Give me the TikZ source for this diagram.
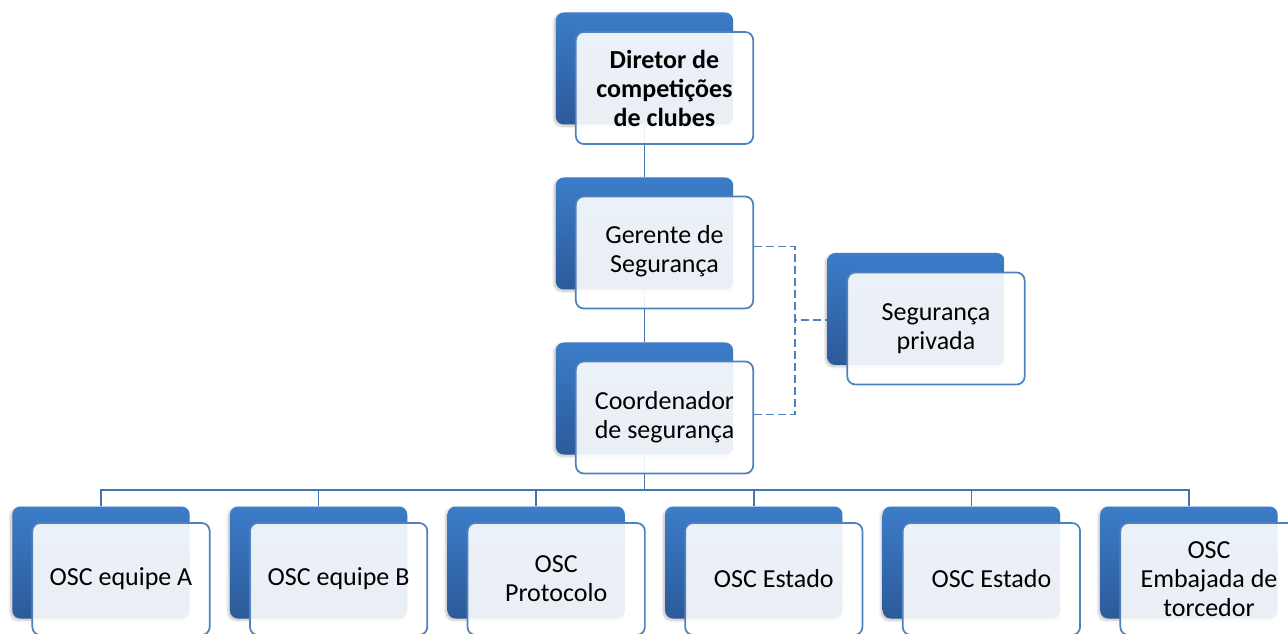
\documentclass[tikz,border=0pt]{standalone}
\usepackage{fontspec}
\setmainfont{Carlito}
\usetikzlibrary{shadows.blur}
\definecolor{boxtop}{HTML}{3C7CC9}
\definecolor{boxbot}{HTML}{2C5A99}
\definecolor{edgeblue}{HTML}{4F81BD}
\definecolor{connblue}{HTML}{4674B0}
\tikzset{
 darkbox/.style={rectangle, rounded corners=6pt, minimum width=133pt, minimum height=84pt, inner sep=0pt,
   top color=boxtop, bottom color=boxbot, draw=none,
   blur shadow={shadow xshift=-1.2pt, shadow yshift=-1.2pt, shadow blur steps=6, shadow opacity=25}},
 lightbox/.style={rectangle, rounded corners=6pt, minimum width=133pt, minimum height=84pt, inner sep=2pt,
   draw=edgeblue, line width=1.3pt, fill=white, fill opacity=0.9, text opacity=1, align=center,
   font=\fontsize{19.5pt}{21.75pt}\selectfont},
 conn/.style={draw=connblue, line width=1.1pt},
 dconn/.style={draw=edgeblue, line width=1.4pt, dash pattern=on 6pt off 3pt},
}
\begin{document}
\begin{tikzpicture}[x=0.75pt,y=-0.75pt]
\useasboundingbox (0,0) rectangle (1288,634);
\clip (0,0) rectangle (1288,634);
% dark boxes
\node[darkbox] (d1) at (644.5,68.5) {};
\node[darkbox] (d2) at (644.5,233.5) {};
\node[darkbox] (d3) at (644.5,398.5) {};
\node[darkbox] (ds) at (916,309) {};
\node[darkbox] (db1) at (101,562.5) {};
\node[darkbox] (db2) at (318.6,562.5) {};
\node[darkbox] (db3) at (536.2,562.5) {};
\node[darkbox] (db4) at (753.8,562.5) {};
\node[darkbox] (db5) at (971.4,562.5) {};
\node[darkbox] (db6) at (1189,562.5) {};
% solid connectors
\draw[conn] (d1.south) -- (d2.north);
\draw[conn] (d2.south) -- (d3.north);
\coordinate (bus) at (644.5,490);
\draw[conn] (d3.south) -- (bus);
\foreach \i in {1,...,6} { \draw[conn] (bus) -| (db\i.north); }
% light boxes
\node[lightbox] (l1) at (664.5,88) {\bfseries Diretor de\\\bfseries competições\\\bfseries de clubes};
\node[lightbox] (l2) at (664.5,252.5) {\raisebox{-2pt}{\begin{tabular}{@{}c@{}}Gerente de\\Segurança\end{tabular}}};
\node[lightbox] (l3) at (664.5,417.5) {Coordenador\\de segurança};
\node[lightbox] (ls) at (936,328.5) {Segurança\\privada};
\node[lightbox] (lb1) at (121,579) {OSC equipe A};
\node[lightbox] (lb2) at (338.6,579) {OSC equipe B};
\node[lightbox] (lb3) at (556.2,579) {OSC\\Protocolo};
\node[lightbox] (lb4) at (773.8,579) {OSC Estado};
\node[lightbox] (lb5) at (991.4,579) {OSC Estado};
\node[lightbox] (lb6) at (1209,579) {OSC\\Embajada de\\torcedor};
% dashed connectors
\coordinate (dj) at (795,320);
\draw[dconn] ([yshift=4.5pt]l2.east) -| (dj) -- (dj -| ds.west);
\draw[dconn] ([yshift=2.25pt]l3.east) -| (dj);
\end{tikzpicture}
\end{document}
